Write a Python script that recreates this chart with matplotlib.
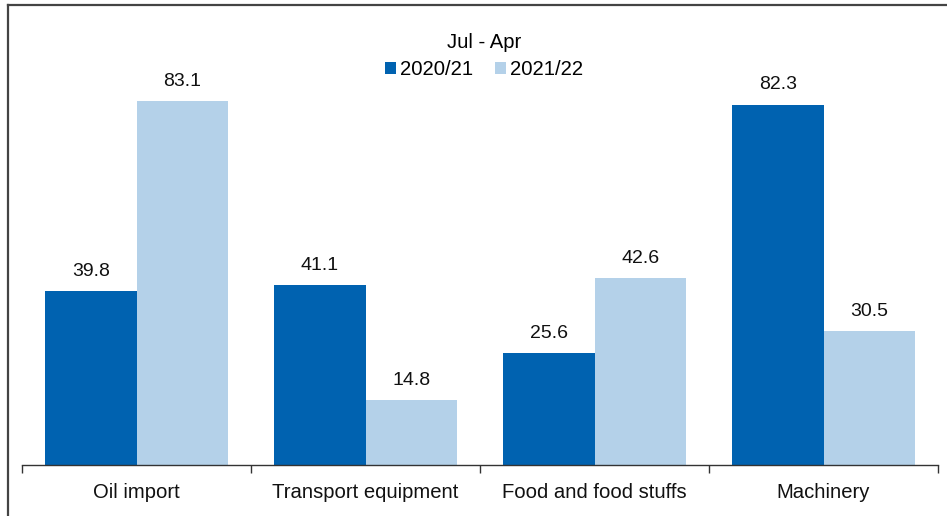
import matplotlib
matplotlib.use("Agg")
import matplotlib.pyplot as plt
from matplotlib.lines import Line2D
import numpy as np

categories = ["Oil import", "Transport equipment", "Food and food stuffs", "Machinery"]
series_names = ["2020/21", "2021/22"]
values_2020_21 = [39.8, 41.1, 25.6, 82.3]
values_2021_22 = [83.1, 14.8, 42.6, 30.5]
legend_title = "Jul - Apr"

colors = ["#0062B0", "#B4D1E9"]

plt.rcParams["font.family"] = ["Liberation Sans", "DejaVu Sans"]

W, H = 947, 516
fig = plt.figure(figsize=(W / 100, H / 100), dpi=100)
ax = fig.add_axes([22 / W, (H - 465) / H, (938 - 22) / W, (465 - 27) / H])

x = np.arange(len(categories))
bw = 0.4
for i, (vals, name) in enumerate(zip([values_2020_21, values_2021_22], series_names)):
    pos = x + (i - 0.5) * bw
    bars = ax.bar(pos, vals, width=bw, color=colors[i], label=name, zorder=2)
    for b, v in zip(bars, vals):
        ax.annotate(f"{v:.1f}", (b.get_x() + b.get_width() / 2, v),
                    xytext=(0, 8), textcoords="offset points",
                    ha="center", va="bottom", fontsize=14, color="#111111")

ax.set_xlim(-0.5, len(categories) - 0.5)
ax.set_ylim(0, 100)
for s in ["top", "right", "left"]:
    ax.spines[s].set_visible(False)
ax.spines["bottom"].set_color("#333333")
ax.spines["bottom"].set_linewidth(1.0)
ax.set_yticks([])
ax.set_xticks(x)
ax.set_xticklabels(categories, fontsize=14.6, color="#111111")
ax.tick_params(axis="x", which="major", length=0, pad=13)
ax.set_xticks(np.arange(-0.5, len(categories)), minor=True)
ax.tick_params(axis="x", which="minor", length=6, width=1.0, color="#333333")

leg = fig.legend(loc="center", bbox_to_anchor=(484 / W, 1 - 56 / H), ncol=2,
                 frameon=False, title=legend_title, fontsize=14.6,
                 title_fontsize=14.6, handlelength=0.55, handleheight=0.55,
                 handletextpad=0.2, columnspacing=1.1, borderpad=0.2,
                 labelspacing=0.2)
leg._legend_box.sep = 6

# outer frame (left and top edges)
fig.add_artist(Line2D([7.5 / W, 7.5 / W], [0, 1 - 4.5 / H], transform=fig.transFigure,
                      color="#444444", linewidth=1.6))
fig.add_artist(Line2D([7.5 / W, 1], [1 - 4.5 / H, 1 - 4.5 / H], transform=fig.transFigure,
                      color="#444444", linewidth=1.6))

fig.savefig("out.png", dpi=100)
